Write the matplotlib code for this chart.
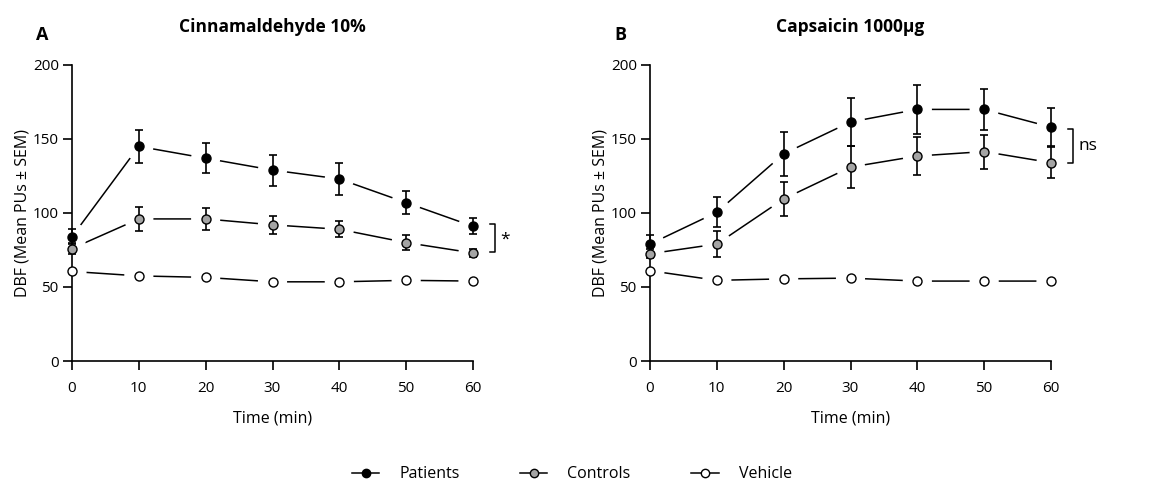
import numpy as np
import matplotlib.pyplot as plt
from matplotlib.lines import Line2D

plt.rcParams['font.family'] = ['Open Sans', 'DejaVu Sans']

time = [0, 10, 20, 30, 40, 50, 60]

# panel A - cinnamaldehyde 10%
cin_patients = [84, 145, 137, 129, 123, 107, 91]
cin_patients_sem = [5, 11, 10, 10.5, 11, 8, 5.5]
cin_controls = [76, 96, 96, 92, 89, 80, 73]
cin_controls_sem = [4, 8, 7.5, 6, 5.5, 5, 3]
cin_vehicle = [60.5, 57.5, 56.5, 53.5, 53.5, 54.5, 54]

# panel B - capsaicin 1000ug
cap_patients = [79, 100.5, 140, 161.5, 170, 170, 158]
cap_patients_sem = [6, 10, 15, 16.5, 16.5, 14, 13]
cap_controls = [72.5, 79, 109.5, 131, 138.5, 141.5, 134]
cap_controls_sem = [3, 8.5, 11.5, 14, 13, 11.5, 10.5]
cap_vehicle = [61, 54.5, 55.5, 56, 54, 54, 54]

series_names = ['Patients', 'Controls', 'Vehicle']
face = ['black', '#a4a4a4', 'white']


def draw_panel(ax, patients, p_sem, controls, c_sem, vehicle, title, letter, sig, sig_range):
    groups = [(patients, p_sem), (controls, c_sem), (vehicle, None)]
    for vals, sem in groups:
        ax.plot(time, vals, color='black', lw=1.1, zorder=1, clip_on=False)
    for vals, sem in groups:
        # white discs break the connecting line around each point
        ax.scatter(time, vals, s=21 ** 2, c='white', edgecolors='none', zorder=1.5,
                   clip_on=False)
    for (vals, sem), fc in zip(groups, face):
        if sem is not None:
            ax.errorbar(time, vals, yerr=sem, fmt='none', ecolor='black', elinewidth=1.2,
                        capsize=3, capthick=1.2, zorder=3, clip_on=False)
        ax.plot(time, vals, 'o', ms=6.5, mfc=fc, mec='black', mew=1.0, zorder=4, clip_on=False)

    ax.set_xlim(0, 60)
    ax.set_ylim(0, 200)
    ax.set_xticks(time)
    ax.set_yticks([0, 50, 100, 150, 200])
    for s in ['top', 'right']:
        ax.spines[s].set_visible(False)
    for s in ['left', 'bottom']:
        ax.spines[s].set_linewidth(1.2)
    ax.tick_params(length=6.5, width=1.2, labelsize=11, pad=8)
    ax.tick_params(axis='y', pad=3)
    ax.set_xlabel('Time (min)', fontsize=11.5, labelpad=10)
    ax.set_ylabel('DBF (Mean PUs \u00b1 SEM)', fontsize=11.5, labelpad=2)
    ax.set_title(title, fontsize=12.5, fontweight='bold', pad=24)
    ax.text(-0.09, 1.10, letter, transform=ax.transAxes, fontsize=13, fontweight='bold',
            ha='left', va='center')

    # significance bracket
    lo, hi = sig_range
    bx = 1.055
    ax.plot([bx - 0.012, bx, bx, bx - 0.012], [hi, hi, lo, lo], color='black', lw=1.1,
            transform=ax.get_yaxis_transform(), clip_on=False)
    ax.text(bx + 0.014, (lo + hi) / 2 - (1 if sig == '*' else 0), sig,
            transform=ax.get_yaxis_transform(), fontsize=12.5,
            ha='left', va='center')


fig = plt.figure(figsize=(11.53, 4.86), dpi=100)
axA = fig.add_axes([72 / 1153, 1 - 361 / 486, 401 / 1153, 296 / 486])
axB = fig.add_axes([650 / 1153, 1 - 361 / 486, 401 / 1153, 296 / 486])

draw_panel(axA, cin_patients, cin_patients_sem, cin_controls, cin_controls_sem, cin_vehicle,
           'Cinnamaldehyde 10%', 'A', '*', (73.5, 92.5))
draw_panel(axB, cap_patients, cap_patients_sem, cap_controls, cap_controls_sem, cap_vehicle,
           'Capsaicin 1000\u00b5g', 'B', 'ns', (134, 157))

handles = [Line2D([0], [0], color='black', lw=1.1, marker='o', ms=6, mfc=fc, mec='black')
           for fc in face]
fig.legend(handles, series_names, loc='lower center', bbox_to_anchor=(0.496, -0.022), ncol=3,
           frameon=False, fontsize=11.5, columnspacing=3.8, handlelength=1.7, handletextpad=1.25)

fig.savefig('out.png', dpi=100)
